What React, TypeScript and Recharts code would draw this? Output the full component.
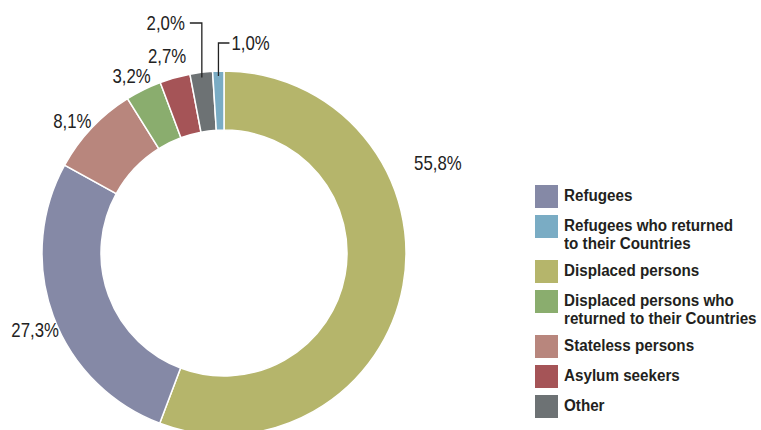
import { PieChart, Pie, Cell, Legend } from "recharts";

// slices in clockwise order from 12 o'clock
const categories = [
  "Displaced persons",
  "Refugees",
  "Stateless persons",
  "Displaced persons who returned to their Countries",
  "Asylum seekers",
  "Other",
  "Refugees who returned to their Countries",
];
const shares = [55.8, 27.3, 8.1, 3.2, 2.7, 2.0, 1.0];
const colors = ["#b5b56b", "#8589a6", "#b8867d", "#8aad6e", "#a55457", "#6d7274", "#7aacc4"];

// legend order and line breaks as in the figure
const legendOrder = [1, 6, 0, 3, 2, 4, 5];
const legendLines = [
  ["Displaced persons"],
  ["Refugees"],
  ["Stateless persons"],
  ["Displaced persons who", "returned to their Countries"],
  ["Asylum seekers"],
  ["Other"],
  ["Refugees who returned", "to their Countries"],
];

const data = categories.map((name, i) => ({ name, value: shares[i] }));

const FONT = '"Liberation Sans", Arial, sans-serif';
const SQUEEZE = 0.84; // condensed look for the % labels
const LEGEND_SQUEEZE = 0.95;
const RAD = Math.PI / 180;

// label placement: angle (deg) + distance from centre; leader = callout with elbow
const labelPos: { angle?: number; r?: number; leader?: { y: number; side: "left" | "right" } }[] = [
  { angle: 22.8, r: 232 },
  { angle: 202.2, r: 204 },
  { angle: 139, r: 201 },
  { angle: 117.5, r: 200 },
  { angle: 106.1, r: 205 },
  { leader: { y: 23, side: "left" } },
  { leader: { y: 43, side: "right" } },
];

const fmt = (v: number) => v.toFixed(1).replace(".", ",") + "%";

function PctText({ x, y, anchor, children }: any) {
  return (
    <text
      transform={`translate(${x},${y}) scale(${SQUEEZE},1)`}
      textAnchor={anchor}
      dominantBaseline="central"
      fontFamily={FONT}
      fontSize={20}
      fill="#222"
    >
      {children}
    </text>
  );
}

function renderLabel(props: any) {
  const { cx, cy, midAngle, outerRadius, index, value } = props;
  const p = labelPos[index];
  if (p.leader) {
    const sx = cx + (outerRadius - 5) * Math.cos(-midAngle * RAD);
    const sy = cy + (outerRadius - 5) * Math.sin(-midAngle * RAD);
    const ex = p.leader.side === "left" ? sx - 12 : sx + 11;
    return (
      <g>
        <polyline
          points={`${sx},${sy} ${sx},${p.leader.y} ${ex},${p.leader.y}`}
          fill="none"
          stroke="#222"
          strokeWidth={1.3}
        />
        <PctText
          x={p.leader.side === "left" ? ex - 5 : ex + 2}
          y={p.leader.y}
          anchor={p.leader.side === "left" ? "end" : "start"}
        >
          {fmt(value)}
        </PctText>
      </g>
    );
  }
  const a = (p.angle ?? midAngle) * RAD;
  const r = p.r ?? outerRadius + 20;
  return (
    <PctText x={cx + r * Math.cos(a)} y={cy - r * Math.sin(a)} anchor="middle">
      {fmt(value)}
    </PctText>
  );
}

function LegendContent() {
  return (
    <div style={{ fontFamily: FONT, fontWeight: "bold", fontSize: 16, color: "#231f20" }}>
      {legendOrder.map((i) => {
        const lines = legendLines[i];
        return (
          <div
            key={i}
            style={{ display: "flex", alignItems: "flex-start", height: lines.length > 1 ? 45 : 30 }}
          >
            <div style={{ width: 23, height: 23, background: colors[i], flexShrink: 0 }} />
            <div style={{ marginLeft: 6, lineHeight: "17.5px", paddingTop: 2 }}>
              {lines.map((l) => (
                <div
                  key={l}
                  style={{
                    whiteSpace: "nowrap",
                    transform: `scaleX(${LEGEND_SQUEEZE})`,
                    transformOrigin: "left center",
                  }}
                >
                  {l}
                </div>
              ))}
            </div>
          </div>
        );
      })}
    </div>
  );
}

export default function App() {
  return (
    <div style={{ position: "absolute", left: 0, top: 0, background: "#fff" }}>
      <PieChart width={761} height={430} margin={{ top: 0, right: 0, bottom: 0, left: 0 }}>
        <Pie
          data={data}
          dataKey="value"
          nameKey="name"
          cx={224}
          cy={253}
          innerRadius={123}
          outerRadius={182}
          startAngle={90}
          endAngle={-270}
          stroke="#fff"
          strokeWidth={1.5}
          label={renderLabel}
          labelLine={false}
          isAnimationActive={false}
        >
          {data.map((d, i) => (
            <Cell key={d.name} fill={colors[i]} />
          ))}
        </Pie>
        <Legend
          content={<LegendContent />}
          wrapperStyle={{ position: "absolute", left: 535, top: 185, width: 226 }}
        />
      </PieChart>
    </div>
  );
}
